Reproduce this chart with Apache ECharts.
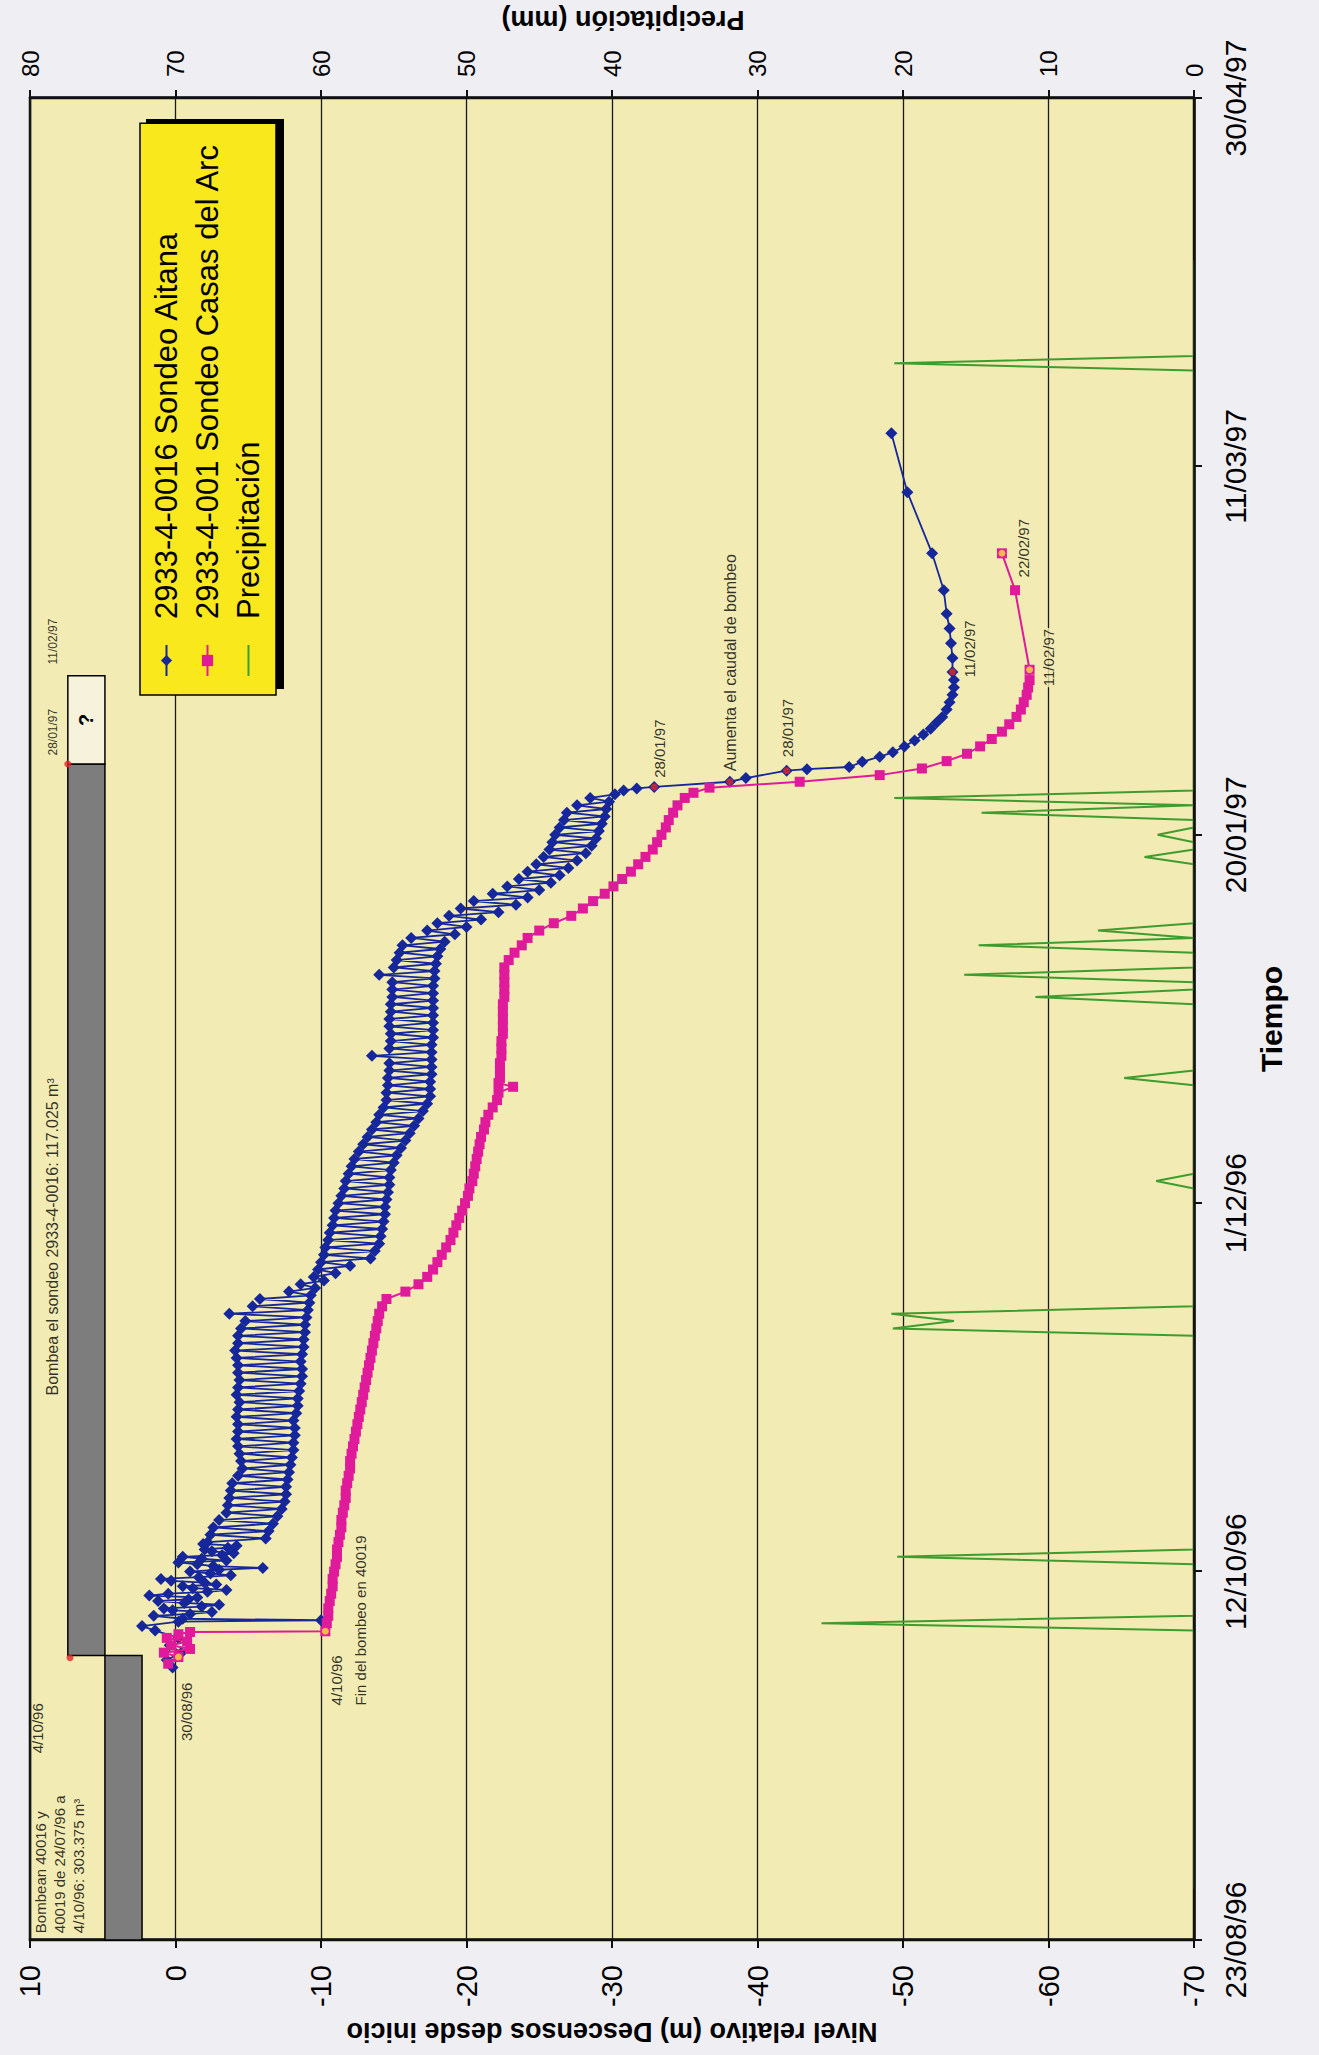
<!DOCTYPE html>
<html>
<head>
<meta charset="utf-8">
<title>Sondeos Aitana / Casas del Arc</title>
<script src="https://cdn.jsdelivr.net/npm/echarts@6/dist/echarts.min.js"></script>
<style>
html, body { margin: 0; padding: 0; width: 1319px; height: 2055px; overflow: hidden; background: #efeef2; }
/* the original sheet is a landscape chart turned a quarter turn on the page */
#chart { position: absolute; left: 0; top: 0; width: 2055px; height: 1319px;
         transform-origin: 0 0; transform: translateY(2055px) rotate(-90deg); }
</style>
</head>
<body>
<div id="chart"></div>
<script>
// time axis: days counted from 23/08/96
var timeTicks = ['23/08/96', '12/10/96', '1/12/96', '20/01/97', '11/03/97', '30/04/97'];
var levelTicks = [-70, -60, -50, -40, -30, -20, -10, 0, 10];
var rainTicks = [0, 10, 20, 30, 40, 50, 60, 70, 80];

// 2933-4-0016 Sondeo Aitana (readings alternate between pumping and recovered level)
var aitanaDay = [
  37, 38, 39, 40, 41, 42, 42.6, 43.2, 43.4, 43.6,
  44, 44.25, 44.5, 44.75, 45, 45.25, 45.5, 45.75, 46, 46.25, 46.5, 46.75, 47, 47.25, 47.5, 47.75,
  48, 48.25, 48.5, 48.75, 49, 49.25, 49.5, 49.75, 50, 50.25, 50.5, 50.75, 51, 51.25, 51.5, 51.75,
  52, 52.25, 52.5, 52.75, 53, 53.25, 53.5, 53.75,
  54, 54.5, 55, 55.5, 56, 56.5, 57, 57.5, 58, 58.5, 59, 59.5, 60, 60.5, 61, 61.5, 62, 62.5,
  63, 63.5, 64, 64.5, 65, 65.5, 66, 66.5, 67, 67.5, 68, 68.5, 69, 69.5, 70, 70.5,
  71, 71.5, 72, 72.5, 73, 73.5, 74, 74.5, 75, 75.5, 76, 76.5, 77, 77.5, 78, 78.5,
  79, 79.5, 80, 80.5, 81, 81.5, 82, 82.5, 83, 83.5, 84, 84.5, 85, 85.5, 86, 86.5, 87, 87.5,
  88, 88.5, 89, 89.5, 90, 90.5, 91, 91.5,
  92, 92.5, 93, 93.5, 94, 94.5, 95, 95.5, 96, 96.5, 97, 97.5, 98, 98.5, 99, 99.5,
  100, 100.5, 101, 101.5, 102, 102.5, 103, 103.5, 104, 104.5, 105, 105.5, 106, 106.5,
  107, 107.5, 108, 108.5, 109, 109.5, 110, 110.5, 111, 111.5, 112, 112.5, 113, 113.5,
  114, 114.5, 115, 115.5, 116, 116.5, 117, 117.5, 118, 118.5, 119, 119.5, 120, 120.5,
  121, 121.5, 122, 122.5, 123, 123.5, 124, 124.5, 125, 125.5, 126, 126.5, 127, 127.5,
  128, 128.5, 129, 129.5, 130, 130.5, 131, 131.5, 132, 132.5, 133, 133.5, 134, 134.5,
  135, 135.5, 136, 136.5,
  137, 137.5, 138, 138.5, 139, 139.5, 140, 140.5, 141, 141.5, 142, 142.5, 143, 143.5,
  144, 144.5, 145, 145.5, 146, 146.5, 147, 147.5, 148, 148.5, 149, 149.5, 150, 150.5,
  151, 151.5, 152, 152.5, 153, 153.5, 154, 154.5, 155,
  155.5, 156, 156.3, 156.5, 157.2, 157.7, 158.7, 158.9, 159.2, 159.9, 160.6, 161.2,
  162, 162.8, 163.6, 164.4, 165.2, 166, 167, 168, 169, 170, 171, 172.1,
  174, 176, 178, 180, 183.2, 188.2, 196.5, 204.5
];
var aitanaLevel = [
  0.2, 0.6, -0.4, 0.4, -0.2, 1.4, 2.3, -0.2, -10.0, -0.5,
  1.5, -1.0, -2.5, 0.2, 0.8, -1.8, -3.0, -0.6, 1.2, -0.9, -1.5, 1.8, 0.5, -2.2, -3.5, -1.2,
  -0.5, -2.8, -2.0, 0.3, 1.0, -1.6, -3.8, -2.4, -1.0, -3.0, -6.0, -2.6, -1.5, -0.2, -3.5, -1.8,
  -0.5, -3.2, -4.0, -2.5, -2.0, -3.6, -4.2, -1.9,
  -2.2, -6.2, -2.4, -6.4, -2.6, -6.7, -3.0, -7.0, -3.5, -7.3, -3.6, -7.5, -3.7, -7.6, -3.8, -7.6, -3.9, -7.7,
  -4.3, -7.8, -4.6, -7.9, -4.5, -8.0, -4.4, -8.1, -4.3, -8.1, -4.2, -8.2, -4.3, -8.2, -4.3, -8.1,
  -4.2, -8.3, -4.3, -8.4, -4.4, -8.4, -4.2, -8.5, -4.3, -8.6, -4.4, -8.7, -4.3, -8.7, -4.3, -8.6,
  -4.2, -8.7, -4.1, -8.8, -4.3, -8.8, -4.3, -8.9, -4.5, -8.9, -4.8, -9.0, -3.7, -9.1, -5.3, -9.2, -5.8, -9.3,
  -7.8, -9.6, -8.6, -10.2, -9.5, -11.0, -9.8, -12.0,
  -10.0, -13.4, -10.2, -13.7, -10.3, -14.0, -10.5, -14.1, -10.6, -14.2, -10.8, -14.3, -10.9, -14.4, -11.0, -14.4,
  -11.2, -14.5, -11.4, -14.6, -11.6, -14.7, -11.7, -14.7, -11.9, -14.8, -12.1, -15.0, -12.3, -15.2,
  -12.6, -15.5, -12.9, -15.8, -13.2, -16.1, -13.5, -16.4, -13.8, -16.7, -14.0, -17.0, -14.3, -17.3,
  -14.5, -17.5, -14.5, -17.5, -14.6, -17.5, -14.6, -17.6, -14.7, -17.6, -14.7, -17.6, -13.5, -17.6,
  -14.7, -17.6, -14.8, -17.7, -14.8, -17.7, -14.7, -17.7, -14.7, -17.7, -14.8, -17.7, -14.8, -17.7,
  -14.9, -17.7, -14.9, -17.7, -14.9, -17.8, -14.0, -17.8, -15.0, -17.9, -15.2, -18.0, -15.4, -18.2,
  -15.6, -18.5, -16.2, -19.2,
  -17.3, -20.0, -18.0, -21.0, -18.8, -22.2, -19.6, -23.4, -20.5, -24.2, -21.8, -25.0, -22.8, -25.8,
  -23.6, -26.4, -24.2, -27.0, -24.8, -27.6, -25.3, -28.2, -25.7, -28.6, -25.9, -28.9, -26.1, -29.1,
  -26.4, -29.3, -26.7, -29.5, -26.9, -29.6, -27.6, -29.8, -28.5,
  -30.2, -30.8, -31.7, -32.9, -38.1, -39.2, -42.0, -43.4, -46.3, -47.2, -48.4, -49.3,
  -50.1, -50.8, -51.4, -51.9, -52.3, -52.7, -53.0, -53.2, -53.4, -53.5, -53.5, -53.4,
  -53.4, -53.3, -53.2, -53.0, -52.8, -52.0, -50.3, -49.2
];

// 2933-4-001 Sondeo Casas del Arc
var casasDay = [
  37.5, 38.4, 39, 39.5, 40, 40.5, 41, 41.5, 41.8, 41.9,
  43, 44, 45, 46, 47, 48, 49, 50, 51, 52, 53, 54, 55, 56, 57, 58, 59, 60, 61, 62, 63, 64, 65,
  66, 67, 68, 69, 70, 71, 72, 73, 74, 75, 76, 77, 78, 79, 80, 81, 82, 83, 84, 85, 86, 87,
  88, 89, 90, 91, 92, 93, 94, 95, 96, 97, 98, 99, 100, 101, 102, 103, 104, 105, 106, 107,
  108, 109, 110, 111, 112, 113, 114, 115, 115.8, 116.3,
  117, 118, 119, 120, 121, 122, 123, 124, 125, 126, 127, 128, 129, 130, 131, 132, 133, 134,
  135, 136, 137, 138, 139, 140, 141, 142, 143, 144, 145, 146, 147, 148, 149, 150, 151, 152,
  153, 154, 155, 155.7, 156.4,
  157.2, 158.1, 159, 160, 161, 162, 163, 164, 165, 166, 167, 168, 169, 170, 171, 172.4, 183.2, 188.2
];
var casasLevel = [
  0.5, -0.2, 0.8, -1.0, 0.3, -0.8, 0.6, -0.2, -1.0, -10.3,
  -10.4, -10.5, -10.5, -10.6, -10.7, -10.8, -10.8, -10.9, -11.0, -11.1, -11.1, -11.2, -11.3, -11.4, -11.4, -11.5, -11.6, -11.7, -11.7, -11.8, -11.9, -12.0, -12.0,
  -12.1, -12.2, -12.3, -12.4, -12.5, -12.6, -12.7, -12.8, -12.9, -13.0, -13.1, -13.2, -13.3, -13.4, -13.5, -13.6, -13.7, -13.8, -13.9, -14.0, -14.2, -14.5,
  -15.8, -16.7, -17.3, -17.7, -18.0, -18.3, -18.6, -18.9, -19.1, -19.3, -19.5, -19.7, -19.9, -20.1, -20.2, -20.4, -20.5, -20.6, -20.7, -20.8,
  -20.9, -21.0, -21.2, -21.3, -21.5, -21.8, -22.1, -22.2, -23.2, -22.2,
  -22.3, -22.3, -22.3, -22.4, -22.4, -22.4, -22.5, -22.5, -22.5, -22.5, -22.5, -22.6, -22.6, -22.6, -22.6, -22.6, -22.9, -23.3,
  -23.8, -24.2, -25.0, -26.0, -27.2, -28.0, -28.7, -29.5, -30.1, -30.7, -31.3, -31.8, -32.3, -32.8, -33.1, -33.4, -33.7, -33.9,
  -34.2, -34.5, -35.0, -35.6, -36.7,
  -42.9, -48.4, -51.3, -53.0, -54.4, -55.3, -56.1, -56.8, -57.3, -57.8, -58.1, -58.3, -58.5, -58.6, -58.7, -58.7, -57.7, -56.8
];

// Precipitación (mm), daily
var rainDay = [7, 42, 43, 44, 51, 52, 53, 82, 83, 84, 85, 86, 102, 103, 104, 116, 117, 118,
  127, 128, 129, 130, 131, 132, 134, 135, 136, 137, 138, 146, 147, 148, 149, 150, 151,
  152, 153, 154, 155, 156, 213, 214, 215, 228];
var rainMm = [0, 0, 25.6, 0, 0, 20.4, 0, 0, 20.7, 16.5, 20.8, 0, 0, 2.6, 0, 0, 4.8, 0,
  0, 10.9, 0, 0, 15.8, 0, 0, 14.8, 0, 6.6, 0, 0, 3.4, 0, 0, 2.5, 0,
  0, 14.6, 0, 20.6, 0, 0, 20.6, 0, 0];

// marked points (red on the Aitana curve and pumping bar, yellow on Casas del Arc)
var redDay = [38.3, 159.6, 156.5, 157.2, 158.7, 172.1];
var redLevel = [7.25, 7.4, -32.9, -38.1, -42.0, -53.4];
var yellowDay = [38.4, 41.9, 172.4, 188.2];
var yellowLevel = [-0.2, -10.3, -58.7, -56.8];

// pumping periods drawn as bars above the curves: [startDay, endDay, topLevel, bottomLevel]
var pumpBars = [[0, 38.6, 4.85, 2.3], [38.6, 159.6, 7.4, 4.85]];
var unknownBar = [159.6, 171.6, 7.4, 4.85];

var FONT = '"Liberation Sans", Arial, Helvetica, sans-serif';
var PLOT_BG = '#f2ebb3';

function zip(a, b) {
  return a.map(function (v, i) { return [v, b[i]]; });
}

var notes = [
  { name: 'Bombean 40016 y\n40019 de 24/07/96 a\n4/10/96: 303.375 m³', value: [1.0, 9.9],
    label: { verticalAlign: 'top', lineHeight: 19 } },
  { name: '4/10/96', value: [32.2, 9.45], label: { align: 'right' } },
  { name: 'Bombea el sondeo 2933-4-0016: 117.025 m³', value: [95.5, 8.4], label: { align: 'center', fontSize: 16 } },
  { name: '28/01/97', value: [164, 8.4], label: { align: 'center', fontSize: 12 } },
  { name: '11/02/97', value: [176.3, 8.4], label: { align: 'center', fontSize: 12 } },
  { name: '30/08/96', value: [35.0, -0.8], label: { align: 'right' } },
  { name: '4/10/96\nFin del bombeo en 40019', value: [31.9, -10.3],
    label: { verticalAlign: 'top', lineHeight: 24 } },
  { name: '28/01/97', value: [157.8, -33.3] },
  { name: 'Aumenta el caudal de bombeo', value: [158.7, -38.2], label: { fontSize: 16 } },
  { name: '28/01/97', value: [160.6, -42.1] },
  { name: '11/02/97', value: [171.4, -54.6] },
  { name: '11/02/97', value: [170.1, -60.05], label: { backgroundColor: PLOT_BG, padding: [3, 1] } },
  { name: '22/02/97', value: [185.0, -58.3] }
];

var barStyle = { color: '#7d7d7d', borderColor: '#000', borderWidth: 1.5 };
var areaData = pumpBars.map(function (b) {
  return [{ xAxis: b[0], yAxis: b[2], itemStyle: barStyle }, { xAxis: b[1], yAxis: b[3] }];
});
areaData.push([
  { xAxis: unknownBar[0], yAxis: unknownBar[2],
    itemStyle: { color: '#f6f2dc', borderColor: '#000', borderWidth: 1.5 },
    label: { show: true, position: 'inside', formatter: '?', fontSize: 20, fontWeight: 'bold', color: '#000' } },
  { xAxis: unknownBar[1], yAxis: unknownBar[3] }
]);

var dom = document.getElementById('chart');
var myChart = echarts.init(dom, null, { renderer: 'svg', width: 2055, height: 1319 });

var option = {
  animation: false,
  backgroundColor: 'transparent',
  textStyle: { fontFamily: FONT, color: '#000' },
  grid: {
    left: 115, right: 98, top: 30, bottom: 125,
    show: true, backgroundColor: PLOT_BG, borderColor: '#111', borderWidth: 2.5,
    outerBoundsMode: 'none'
  },
  legend: {
    data: [
      { name: '2933-4-0016 Sondeo Aitana' },
      { name: '2933-4-001 Sondeo Casas del Arc' },
      { name: 'Precipitación', itemStyle: { opacity: 0 } }
    ],
    orient: 'vertical',
    left: 1360, top: 140,
    backgroundColor: '#f8e81c', borderColor: '#000', borderWidth: 1.5,
    padding: [11, 20, 12, 18],
    itemWidth: 31, itemHeight: 14, itemGap: 10,
    selectedMode: false,
    textStyle: { fontSize: 31, lineHeight: 31, color: '#000', fontFamily: FONT, padding: [0, 0, 0, 21] }
  },
  xAxis: {
    type: 'value', min: 0, max: 250, interval: 50, z: 5,
    axisLine: { show: true, onZero: false, lineStyle: { color: '#111', width: 2.5 } },
    axisTick: { show: true, length: 8, lineStyle: { color: '#111', width: 2 } },
    axisLabel: { fontSize: 30, margin: 26, color: '#000', showMinLabel: true, showMaxLabel: true,
      formatter: function (v) { return timeTicks[Math.round(v / 50)]; } },
    splitLine: { show: false },
    name: 'Tiempo', nameLocation: 'middle', nameGap: 62,
    nameTextStyle: { fontSize: 30, fontWeight: 'bold', color: '#000' }
  },
  yAxis: [
    {
      type: 'value', min: levelTicks[0], max: levelTicks[levelTicks.length - 1], interval: 10,
      position: 'left',
      axisLine: { show: true, onZero: false, lineStyle: { color: '#111', width: 2.5 } },
      axisTick: { show: true, length: 8, lineStyle: { color: '#111', width: 2 } },
      axisLabel: { fontSize: 29, margin: 25, color: '#000', showMinLabel: true, showMaxLabel: true },
      splitLine: { show: true, lineStyle: { color: '#1a1a1a', width: 1.3 } }
    },
    {
      type: 'value', min: rainTicks[0], max: rainTicks[rainTicks.length - 1], interval: 10,
      position: 'right', z: 5,
      axisLine: { show: true, onZero: false, lineStyle: { color: '#111', width: 2.5 } },
      axisTick: { show: true, length: 8, lineStyle: { color: '#111', width: 2 } },
      axisLabel: { fontSize: 24, margin: 21, color: '#000', showMinLabel: true, showMaxLabel: true },
      splitLine: { show: false }
    }
  ],
  graphic: [
    { type: 'rect', z: 3, shape: { x: 1366, y: 146, width: 570, height: 138 }, style: { fill: '#000' } },
    { type: 'text', x: 23, y: 612, rotation: Math.PI / 2,
      style: { text: 'Nivel relativo (m) Descensos desde inicio', fontSize: 27, fontWeight: 'bold',
               fontFamily: FONT, fill: '#000', align: 'center', verticalAlign: 'middle' } },
    { type: 'text', x: 2035, y: 623, rotation: Math.PI / 2,
      style: { text: 'Precipitación (mm)', fontSize: 27, fontWeight: 'bold',
               fontFamily: FONT, fill: '#000', align: 'center', verticalAlign: 'middle' } }
  ],
  series: [
    {
      name: '2933-4-0016 Sondeo Aitana', type: 'line', z: 3,
      data: zip(aitanaDay, aitanaLevel),
      symbol: 'diamond', symbolSize: 12, showAllSymbol: true,
      itemStyle: { color: '#15279a' },
      lineStyle: { color: '#15279a', width: 1.8 }
    },
    {
      name: '2933-4-001 Sondeo Casas del Arc', type: 'line', z: 4,
      data: zip(casasDay, casasLevel),
      symbol: 'rect', symbolSize: 10, showAllSymbol: true,
      itemStyle: { color: '#e01b9b' },
      lineStyle: { color: '#e01b9b', width: 2 }
    },
    {
      name: 'Precipitación', type: 'line', yAxisIndex: 1, z: 2,
      data: zip(rainDay, rainMm),
      symbol: 'none',
      itemStyle: { color: '#3f9c2e' },
      lineStyle: { color: '#3f9c2e', width: 2 }
    },
    {
      name: 'marcas', type: 'scatter', z: 6, silent: true,
      data: zip(redDay, redLevel), symbol: 'circle', symbolSize: 7,
      itemStyle: { color: '#e3262a' }
    },
    {
      name: 'marcas2', type: 'scatter', z: 6, silent: true,
      data: zip(yellowDay, yellowLevel), symbol: 'circle', symbolSize: 7,
      itemStyle: { color: '#f7df3a' }
    },
    {
      name: 'notas', type: 'scatter', z: 7, silent: true,
      data: notes, symbolSize: 1,
      itemStyle: { color: 'rgba(0,0,0,0)' },
      label: {
        show: true, formatter: '{b}', position: [0, 0],
        align: 'left', verticalAlign: 'middle',
        fontSize: 15, color: '#000', fontFamily: FONT
      },
      markArea: { silent: true, data: areaData }
    }
  ]
};

if (option && typeof option === 'object') {
  myChart.setOption(option, true);
}
</script>
</body>
</html>
